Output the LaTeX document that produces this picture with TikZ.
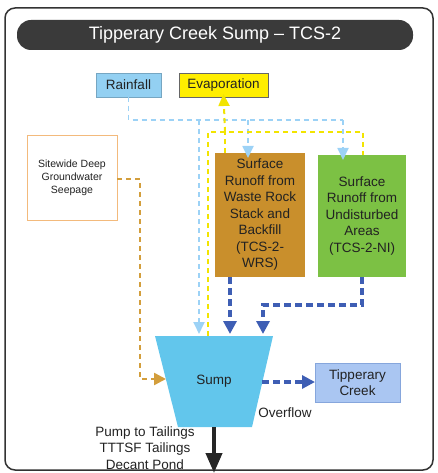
\documentclass[tikz,border=0pt]{standalone}
\usepackage{fontspec}
\setmainfont{Liberation Sans}
\usetikzlibrary{arrows.meta}
\definecolor{titlebg}{HTML}{3A3A3A}
\definecolor{rainc}{HTML}{93D0F2}
\definecolor{evapc}{HTML}{FFEE00}
\definecolor{brownc}{HTML}{C98F2C}
\definecolor{greenc}{HTML}{7CC144}
\definecolor{sumpc}{HTML}{62C6EC}
\definecolor{creekc}{HTML}{AAC6F2}
\definecolor{creekb}{HTML}{86A6DC}
\definecolor{lbline}{HTML}{9CD2F6}
\definecolor{yline}{HTML}{F2E400}
\definecolor{dbline}{HTML}{3E5EB4}
\definecolor{oline}{HTML}{D39E3C}
\definecolor{gwb}{HTML}{F3BA7C}
\definecolor{txt}{HTML}{222222}
\begin{document}
\begin{tikzpicture}[x=1pt,y=-1pt,
  box/.style={inner sep=0pt,outer sep=0pt,anchor=north west,align=center,text=txt},
  fs/.style={font=\fontsize{13.5}{16.5}\selectfont},
  lb/.style={draw=lbline,line width=1.8pt,dash pattern=on 5pt off 4pt},
  yl/.style={draw=yline,line width=2pt,dash pattern=on 5pt off 4pt},
  db/.style={draw=dbline,line width=3.2pt,dash pattern=on 7pt off 4pt},
  ol/.style={draw=oline,line width=2.5pt,dash pattern=on 5pt off 4pt},
  tipa/.style={-{Triangle[width=11pt,length=12pt]}}
]
\useasboundingbox (0,0) rectangle (437,473);
% outer frame
\draw[line width=1.5pt,draw=black!80,rounded corners=10pt] (5,8) rectangle (433,470);
% title
\node[box,fill=titlebg,rounded corners=14pt,minimum width=396pt,minimum height=30pt,
  text=white,font=\fontsize{18}{20}\selectfont] (title) at (17,20) {Tipperary Creek Sump -- TCS-2};
% boxes
\node[box,fill=rainc,draw=rainc!80!black,line width=0.4pt,minimum width=65pt,minimum height=24pt,fs] (rain) at (96,73) {Rainfall};
\node[box,fill=evapc,draw=black!60,line width=0.6pt,minimum width=89pt,minimum height=24pt,fs] (evap) at (179,73) {Evaporation};
\node[box,draw=gwb,line width=1pt,minimum width=90pt,minimum height=84pt,
  font=\fontsize{10.5}{13}\selectfont] (gw) at (27,136) {Sitewide Deep\\Groundwater\\Seepage};
\node[box,fill=brownc,minimum width=90pt,minimum height=124pt,fs] (wrs) at (215,153)
  {Surface\\Runoff from\\Waste Rock\\Stack and\\Backfill\\(TCS-2-\\WRS)};
\node[box,fill=greenc,minimum width=88pt,minimum height=122pt,fs] (ni) at (318,155)
  {Surface\\Runoff from\\Undisturbed\\Areas\\(TCS-2-NI)};
\node[box,fill=creekc,draw=creekb,line width=0.6pt,minimum width=85pt,minimum height=39pt,
  font=\fontsize{13.5}{16}\selectfont] (creek) at (315,363) {Tipperary\\Creek};
% sump trapezoid
\coordinate (stl) at (155,336);
\coordinate (str) at (273,336);
\coordinate (sbr) at (252,427);
\coordinate (sbl) at (178,427);
\fill[sumpc] (stl) -- (str) -- (sbr) -- (sbl) -- cycle;
\node[fs,text=txt,inner sep=0pt] (sump) at (214,381) {Sump};
\node[fs,text=txt,inner sep=0pt] (ovf) at (285,413) {Overflow};
\node[fs,text=txt,inner sep=0pt,align=center] (pump) at (145,448) {Pump to Tailings\\TTTSF Tailings\\Decant Pond};
% named points on sump
\coordinate (sleft) at (166,379);
\coordinate (sright) at (262,382);
\coordinate (sbot) at (214,427);
\coordinate (send) at (214,473);
% rainfall connectors
\coordinate (bj1) at (199,120);
\coordinate (bj2) at (248,120);
\coordinate (bj3) at (343,120);
\draw[lb] (rain.south) |- (bj3);
\draw[lb,tipa] (bj1) -- (199,334);
\draw[lb,tipa] (bj2) -- ([yshift=-5pt]bj2 |- wrs.north);
\draw[lb,tipa] (bj3) -- ([yshift=-5pt]bj3 |- ni.north);
% evaporation connectors
\coordinate (yj1) at (208,132);
\coordinate (yj2) at (225,132);
\coordinate (yj3) at (363,132);
\draw[yl] (208,336) -- (yj1) -- (yj3) -- (yj3 |- ni.north);
\draw[yl] (yj2 |- wrs.north) -- (yj2);
\draw[yl,-{Triangle[width=11pt,length=12pt]}] (yj2) -- ([yshift=3pt]evap.south);
% groundwater
\draw[ol,-{Triangle[width=12pt,length=12pt]}] (gw.east |- 0,179) -- (140,179) -- (140,379) -- (sleft);
% runoff to sump
\draw[db,-{Triangle[width=13pt,length=13pt]}] (230,277) -- (230,334);
\draw[db,-{Triangle[width=13pt,length=13pt]}] (362,277) -- (362,305) -- (263,305) -- (263,334);
% overflow
\draw[db,-{Triangle[width=13pt,length=13pt]}] (sright) -- (creek.west |- sright);
% pump arrow
\draw[draw=black!85,line width=4pt,-{Triangle[width=16pt,length=20pt]}] (sbot) -- (send);
\end{tikzpicture}
\end{document}
